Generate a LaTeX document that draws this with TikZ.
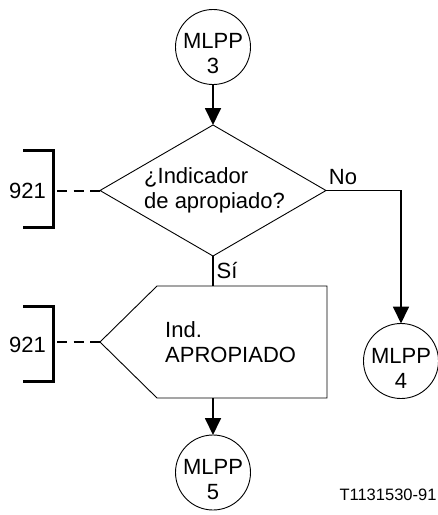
\documentclass[tikz,border=0pt]{standalone}
\usepackage{fontspec}
\setmainfont{Liberation Sans}
\usetikzlibrary{arrows.meta,shapes.geometric,calc}
\begin{document}
\begin{tikzpicture}[x=1pt,y=-1pt,
  txt/.style={font=\fontsize{22}{25}\selectfont,inner sep=0pt},
  small/.style={font=\fontsize{16.5}{19}\selectfont,inner sep=0pt},
  term/.style={circle,draw,line width=0.9pt,minimum size=75pt,inner sep=0pt,outer sep=0pt},
  decision/.style={diamond,draw,line width=0.9pt,minimum width=226pt,minimum height=131pt,inner sep=0pt,outer sep=0pt},
  body/.style={rectangle,minimum width=170pt,minimum height=112pt,inner sep=0pt,outer sep=0pt},
  outline/.style={draw,line width=0.9pt,line join=miter},
  flow/.style={line width=1.8pt},
  conn/.style={line width=1.8pt,-{Triangle[length=17pt,width=16pt]}},
  refline/.style={line width=2pt,dash pattern=on 10pt off 6.5pt},
  bracket/.style={line width=3pt}
]
\useasboundingbox (0,0) rectangle (438,515);

% terminals
\node[term] (m3) at (213,47) {};
\node[txt,align=center] (m3t) at ($(m3)+(0,7)$) {MLPP\\3};
\node[term] (m4) at (401,361) {};
\node[txt,align=center] (m4t) at ($(m4)+(0,7)$) {MLPP\\4};
\node[term] (m5) at (213,472.5) {};
\node[txt,align=center] (m5t) at ($(m5)+(0,7)$) {MLPP\\5};

% decision
\node[decision] (d) at (213,190.5) {};
\node[txt,align=left,anchor=west] (dt) at (144,190.5) {¿Indicador\\de apropiado?};

% output box pointing left
\node[body] (b) at (242,342) {};
\coordinate (p) at (100,342);
\draw[outline] (b.north west) -- (b.north east) -- (b.south east) -- (b.south west) -- (p) -- cycle;
\node[txt,align=left,anchor=west] (bt) at (165,342) {Ind.\\APROPIADO};

% references: brackets and dashed ties
\coordinate (k1) at (57,190.5);
\coordinate (k2) at (57,342);
\draw[bracket] (23,150) -- (53,150) -- (53,227) -- (23,227);
\draw[bracket] (23,306) -- (53,306) -- (53,381) -- (23,381);
\node[txt] (r1) at (27.5,190.5) {921};
\node[txt] (r2) at (27.5,345) {921};
\draw[refline] (k1) -- (d.west);
\draw[refline] (k2) -- (p);

% flow
\draw[conn] (m3) -- (d.north);
\draw[flow] (d.south) -- (d.south |- b.north);
\draw[conn] (d.south |- b.south) -- (m5);
\draw[conn] (d.east) -| (m4);
\node[txt] (no) at (343,177) {No};
\node[txt] (si) at (227,271) {Sí};

\node[small] (id) at (388,495) {T1131530-91};
\end{tikzpicture}
\end{document}
